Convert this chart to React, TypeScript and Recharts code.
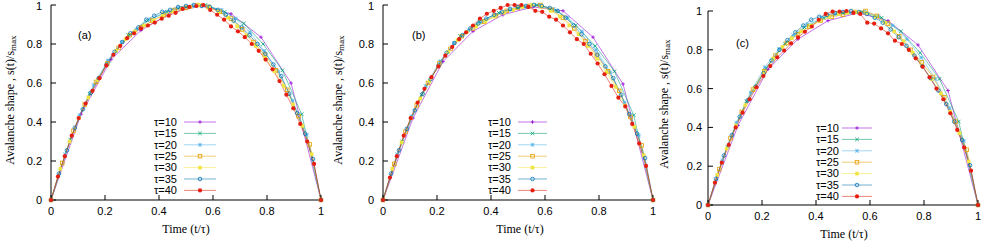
import { LineChart, Line, XAxis, YAxis } from 'recharts'

const taus = [10, 15, 20, 25, 30, 35, 40]
const tauLabels = ['τ=10', 'τ=15', 'τ=20', 'τ=25', 'τ=30', 'τ=35', 'τ=40']
const xTicks = [0, 0.2, 0.4, 0.6, 0.8, 1]
const yTicks = [0, 0.2, 0.4, 0.6, 0.8, 1]
const panelTags = ['(a)', '(b)', '(c)']

// panel (a): s(t)/smax at t/(tau-1)
const a10 = [0, 0.44, 0.72, 0.87, 0.96, 0.995, 0.955, 0.835, 0.6, 0]
const a15 = [0, 0.31, 0.545, 0.715, 0.845, 0.92, 0.965, 0.99, 1.0, 0.965, 0.905, 0.8, 0.665, 0.44, 0]
const a20 = [0, 0.235, 0.435, 0.59, 0.715, 0.81, 0.875, 0.925, 0.96, 0.985, 0.995, 0.995, 0.975, 0.93, 0.86, 0.765, 0.66, 0.51, 0.335, 0]
const a25 = [0, 0.19, 0.355, 0.49, 0.605, 0.7, 0.78, 0.845, 0.885, 0.92, 0.95, 0.975, 0.985, 1.0, 0.99, 0.965, 0.93, 0.875, 0.81, 0.745, 0.665, 0.565, 0.43, 0.285, 0]
const a30 = [0, 0.16, 0.3, 0.42, 0.525, 0.615, 0.695, 0.765, 0.825, 0.865, 0.895, 0.92, 0.945, 0.965, 0.98, 0.99, 1.0, 0.985, 0.965, 0.935, 0.89, 0.845, 0.79, 0.73, 0.66, 0.585, 0.49, 0.38, 0.235, 0]
const a35 = [0, 0.135, 0.255, 0.37, 0.465, 0.55, 0.625, 0.695, 0.76, 0.81, 0.855, 0.885, 0.925, 0.945, 0.965, 0.975, 0.99, 0.995, 1.0, 0.995, 0.99, 0.975, 0.95, 0.92, 0.885, 0.845, 0.8, 0.75, 0.695, 0.635, 0.545, 0.445, 0.34, 0.21, 0]
const a40 = [0, 0.12, 0.225, 0.33, 0.42, 0.495, 0.56, 0.625, 0.69, 0.745, 0.79, 0.83, 0.855, 0.88, 0.895, 0.91, 0.93, 0.945, 0.96, 0.98, 0.99, 0.995, 1.0, 0.975, 0.95, 0.925, 0.89, 0.865, 0.835, 0.8, 0.765, 0.72, 0.67, 0.61, 0.54, 0.47, 0.39, 0.3, 0.185, 0]

// panel (b)
const b10 = [0, 0.42, 0.71, 0.865, 0.95, 0.99, 0.97, 0.835, 0.595, 0]
const b15 = [0, 0.3, 0.54, 0.71, 0.84, 0.915, 0.96, 0.985, 1.0, 0.97, 0.895, 0.79, 0.66, 0.435, 0]
const b20 = [0, 0.235, 0.43, 0.585, 0.71, 0.805, 0.87, 0.915, 0.95, 0.975, 0.99, 1.0, 0.98, 0.935, 0.865, 0.77, 0.655, 0.5, 0.33, 0]
const b25 = [0, 0.185, 0.35, 0.485, 0.6, 0.7, 0.775, 0.84, 0.88, 0.915, 0.945, 0.97, 0.985, 0.995, 1.0, 0.975, 0.935, 0.88, 0.815, 0.74, 0.66, 0.56, 0.425, 0.28, 0]
const b30 = [0, 0.16, 0.295, 0.42, 0.52, 0.61, 0.69, 0.76, 0.82, 0.86, 0.89, 0.915, 0.94, 0.96, 0.975, 0.99, 1.0, 0.99, 0.97, 0.94, 0.895, 0.85, 0.79, 0.725, 0.655, 0.58, 0.485, 0.375, 0.23, 0]
const b35 = [0, 0.135, 0.255, 0.365, 0.46, 0.545, 0.62, 0.69, 0.755, 0.805, 0.845, 0.88, 0.905, 0.93, 0.95, 0.965, 0.98, 0.99, 0.995, 1.0, 0.995, 0.985, 0.97, 0.935, 0.895, 0.85, 0.8, 0.745, 0.685, 0.625, 0.54, 0.44, 0.34, 0.215, 0]
const b40 = [0, 0.115, 0.225, 0.33, 0.42, 0.5, 0.57, 0.63, 0.685, 0.74, 0.785, 0.825, 0.86, 0.895, 0.93, 0.955, 0.97, 0.985, 1.0, 1.0, 1.0, 0.99, 0.97, 0.965, 0.94, 0.925, 0.895, 0.86, 0.825, 0.8, 0.75, 0.7, 0.645, 0.585, 0.525, 0.48, 0.39, 0.29, 0.175, 0]

// panel (c)
const c10 = [0, 0.41, 0.7, 0.855, 0.95, 0.99, 0.95, 0.825, 0.59, 0]
const c15 = [0, 0.3, 0.535, 0.705, 0.83, 0.915, 0.965, 0.99, 0.995, 0.965, 0.895, 0.785, 0.65, 0.43, 0]
const c20 = [0, 0.23, 0.425, 0.58, 0.71, 0.805, 0.875, 0.93, 0.965, 0.985, 0.99, 0.995, 0.975, 0.925, 0.855, 0.76, 0.65, 0.5, 0.33, 0]
const c25 = [0, 0.185, 0.345, 0.48, 0.595, 0.69, 0.77, 0.835, 0.88, 0.92, 0.95, 0.97, 0.98, 0.995, 1.0, 0.975, 0.935, 0.87, 0.8, 0.735, 0.66, 0.555, 0.43, 0.285, 0]
const c30 = [0, 0.155, 0.29, 0.41, 0.515, 0.605, 0.685, 0.755, 0.815, 0.86, 0.895, 0.925, 0.95, 0.97, 0.985, 0.99, 0.995, 0.99, 0.97, 0.94, 0.895, 0.845, 0.785, 0.72, 0.65, 0.575, 0.48, 0.37, 0.225, 0]
const c35 = [0, 0.135, 0.255, 0.36, 0.455, 0.54, 0.61, 0.68, 0.745, 0.8, 0.85, 0.89, 0.925, 0.955, 0.97, 0.98, 0.99, 0.995, 1.0, 0.995, 0.985, 0.965, 0.94, 0.905, 0.865, 0.82, 0.77, 0.715, 0.655, 0.59, 0.52, 0.43, 0.335, 0.205, 0]
const c40 = [0, 0.115, 0.218, 0.31, 0.4, 0.476, 0.545, 0.607, 0.665, 0.716, 0.761, 0.796, 0.833, 0.864, 0.893, 0.92, 0.955, 0.985, 0.997, 0.997, 1.0, 0.99, 0.985, 0.94, 0.935, 0.91, 0.885, 0.847, 0.83, 0.8, 0.756, 0.713, 0.658, 0.6, 0.545, 0.473, 0.387, 0.296, 0.177, 0]

const colors = ['#9400d3', '#009e73', '#56b4e9', '#e69f00', '#f0e442', '#0072b2', '#e51e10']
const markers = ['plus', 'cross', 'star', 'square', 'fsquare', 'circle', 'fcircle']

const SANS = "'Liberation Sans', Arial, sans-serif"
const SERIF = "'Liberation Serif', 'Times New Roman', serif"

const toRows = (tau: number, ys: number[]) => ys.map((y, k) => ({ x: k / (tau - 1), y }))
const fmt = (v: number) => (v === 0 || v === 1 ? String(v) : v.toFixed(1))

function Marker({ kind, cx, cy, color }: { kind: string; cx: number; cy: number; color: string }) {
  const s = 1.8
  if (cx == null || cy == null) return null
  switch (kind) {
    case 'plus':
      return (
        <g stroke={color} strokeWidth={0.8}>
          <line x1={cx - s} x2={cx + s} y1={cy} y2={cy} />
          <line x1={cx} x2={cx} y1={cy - s} y2={cy + s} />
        </g>
      )
    case 'cross':
      return (
        <g stroke={color} strokeWidth={0.8}>
          <line x1={cx - s} x2={cx + s} y1={cy - s} y2={cy + s} />
          <line x1={cx - s} x2={cx + s} y1={cy + s} y2={cy - s} />
        </g>
      )
    case 'star':
      return (
        <g stroke={color} strokeWidth={0.8}>
          <line x1={cx - s} x2={cx + s} y1={cy} y2={cy} />
          <line x1={cx} x2={cx} y1={cy - s} y2={cy + s} />
          <line x1={cx - s} x2={cx + s} y1={cy - s} y2={cy + s} />
          <line x1={cx - s} x2={cx + s} y1={cy + s} y2={cy - s} />
        </g>
      )
    case 'square':
      return <rect x={cx - s} y={cy - s} width={2 * s} height={2 * s} fill="none" stroke={color} strokeWidth={0.8} />
    case 'fsquare':
      return <rect x={cx - s} y={cy - s} width={2 * s} height={2 * s} fill={color} />
    case 'circle':
      return <circle cx={cx} cy={cy} r={s} fill="none" stroke={color} strokeWidth={0.8} />
    default:
      return <circle cx={cx} cy={cy} r={2.1} fill={color} />
  }
}

type PanelProps = {
  series: number[][]
  left: number
  top: number
  width: number
  plotTop: number
  plotLeft: number
  plotRight: number
  plotBottom: number
  yTickMargin: number
}

function Panel({ series, left, top, width, plotTop, plotLeft, plotRight, plotBottom, yTickMargin }: PanelProps) {
  const tickStyle = { fontSize: 11, fill: '#000', fontFamily: SANS }
  return (
    <div style={{ position: 'absolute', left, top }}>
      <LineChart
        width={width}
        height={241 - top}
        margin={{ top: plotTop - top, right: left + width - plotRight, bottom: 0, left: 0 }}
      >
        <XAxis
          type="number"
          dataKey="x"
          domain={[0, 1]}
          ticks={xTicks}
          tickFormatter={fmt}
          height={241 - plotBottom}
          stroke="#000"
          tickSize={-5}
          tickMargin={12}
          tick={tickStyle}
        />
        <XAxis xAxisId="top" orientation="top" type="number" dataKey="x" domain={[0, 1]} ticks={xTicks} height={0} stroke="#000" tickSize={-5} tick={false} />
        <YAxis
          type="number"
          domain={[0, 1]}
          ticks={yTicks}
          tickFormatter={fmt}
          width={plotLeft - left}
          stroke="#000"
          tickSize={-5}
          tickMargin={yTickMargin}
          tick={tickStyle}
        />
        <YAxis yAxisId="right" orientation="right" type="number" domain={[0, 1]} ticks={yTicks} width={0} stroke="#000" tickSize={-5} tick={false} />
        {series.map((ys, i) => (
          <Line
            key={taus[i]}
            data={toRows(taus[i], ys)}
            dataKey="y"
            type="linear"
            stroke={colors[i]}
            strokeOpacity={0.55}
            strokeWidth={1}
            dot={(p: any) => <Marker key={`d${i}-${p.index}`} kind={markers[i]} cx={p.cx} cy={p.cy} color={colors[i]} />}
            activeDot={false}
            isAnimationActive={false}
          />
        ))}
      </LineChart>
    </div>
  )
}

const panels = [
  { series: [a10, a15, a20, a25, a30, a35, a40], left: 0, top: 0, width: 330, plotTop: 5, plotLeft: 51, plotRight: 321, plotBottom: 200, yTickMargin: 14 },
  { series: [b10, b15, b20, b25, b30, b35, b40], left: 330, top: 0, width: 330, plotTop: 5, plotLeft: 383, plotRight: 653, plotBottom: 200, yTickMargin: 14 },
  { series: [c10, c15, c20, c25, c30, c35, c40], left: 660, top: 0, width: 321, plotTop: 11, plotLeft: 708, plotRight: 978, plotBottom: 205, yTickMargin: 11 },
]

const labelLayout = [
  { yl: [10, 100], xl: [186, 233], tag: [78, 35], legText: 177, legLine: [184, 216], legTop: 122 },
  { yl: [338, 100], xl: [520, 233], tag: [412, 35], legText: 511, legLine: [518, 547], legTop: 122 },
  { yl: [664, 104], xl: [844, 238], tag: [736, 43], legText: 839, legLine: [842, 872], legTop: 128 },
]

export default function App() {
  return (
    <div style={{ position: 'absolute', left: 0, top: 0, width: 981, height: 241, background: '#fff', overflow: 'hidden' }}>
      {panels.map((p) => (
        <Panel key={p.left} {...p} />
      ))}
      <svg width={981} height={241} style={{ position: 'absolute', left: 0, top: 0, pointerEvents: 'none' }}>
        {labelLayout.map((l, pi) => (
          <g key={pi}>
            <text
              x={l.yl[0]}
              y={l.yl[1]}
              transform={`rotate(-90 ${l.yl[0]} ${l.yl[1]})`}
              textAnchor="middle"
              dominantBaseline="central"
              fontFamily={SERIF}
              fontSize={12}
              fill="#000"
            >
              Avalanche shape , s(t)/s<tspan dy={3} fontSize={9}>max</tspan>
            </text>
            <text x={l.xl[0]} y={l.xl[1]} textAnchor="middle" fontFamily={SERIF} fontSize={12} fill="#000">
              Time (t/τ)
            </text>
            <text x={l.tag[0]} y={l.tag[1]} dy="0.35em" fontFamily={SANS} fontSize={11} fill="#000">
              {panelTags[pi]}
            </text>
            {tauLabels.map((t, i) => {
              const y = l.legTop + i * 11.4
              const cx = (l.legLine[0] + l.legLine[1]) / 2
              return (
                <g key={t}>
                  <text x={l.legText} y={y} dy="0.35em" textAnchor="end" fontFamily={SANS} fontSize={11} fill="#000">
                    {t}
                  </text>
                  <line x1={l.legLine[0]} x2={l.legLine[1]} y1={y} y2={y} stroke={colors[i]} strokeOpacity={0.55} strokeWidth={1} />
                  <Marker kind={markers[i]} cx={cx} cy={y} color={colors[i]} />
                </g>
              )
            })}
          </g>
        ))}
      </svg>
    </div>
  )
}
